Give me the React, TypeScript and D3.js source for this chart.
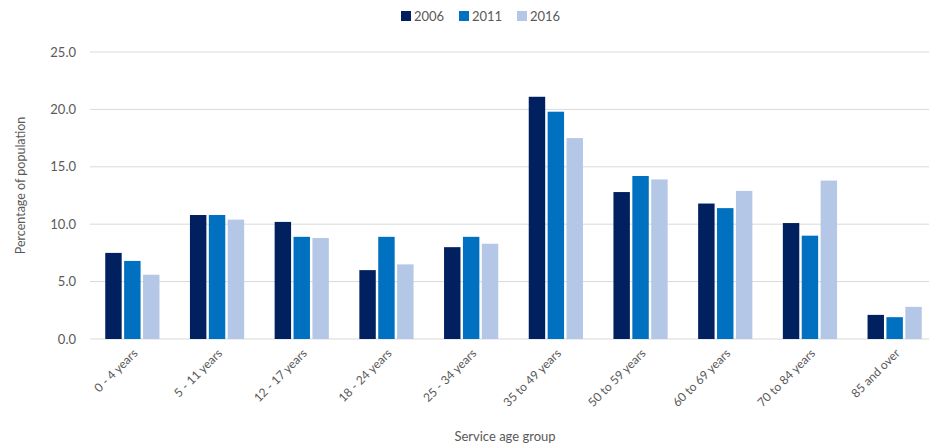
import React from "react";
import * as d3 from "d3";

const categories = [
  "0 - 4 years",
  "5 - 11 years",
  "12 - 17 years",
  "18 - 24 years",
  "25 - 34 years",
  "35 to 49 years",
  "50 to 59 years",
  "60 to 69 years",
  "70 to 84 years",
  "85 and over",
];
const seriesNames = ["2006", "2011", "2016"];
const values2006 = [7.5, 10.8, 10.2, 6.0, 8.0, 21.1, 12.8, 11.8, 10.1, 2.1];
const values2011 = [6.8, 10.8, 8.9, 8.9, 8.9, 19.8, 14.2, 11.4, 9.0, 1.9];
const values2016 = [5.6, 10.4, 8.8, 6.5, 8.3, 17.5, 13.9, 12.9, 13.8, 2.8];
const yTicks = [0, 5, 10, 15, 20, 25];
const colors = ["#002060", "#0070C0", "#B4C7E7"];

const W = 929;
const H = 446;
const FONT = "Lato, 'Open Sans', sans-serif";
const TEXT = "#595959";

export default function App() {
  const series = [values2006, values2011, values2016];
  const left = 90;
  const right = 937;
  const top = 52;
  const bottom = 339;

  const x = d3.scaleBand<string>().domain(categories).range([left, right]).paddingInner(0.36).paddingOuter(0.18);
  const xs = d3.scaleBand<string>().domain(seriesNames).range([0, x.bandwidth()]).paddingInner(0.13);
  const y = d3.scaleLinear().domain([0, 25]).range([bottom, top]);

  const legendX = [401, 459, 517];

  return (
    <svg width={W} height={H} style={{ position: "absolute", left: 0, top: 0, background: "#fff" }}>
      {yTicks.map((t) => (
        <g key={t}>
          <line x1={left} x2={W} y1={y(t)} y2={y(t)} stroke="#d9d9d9" strokeWidth={1} />
          <text x={76} y={y(t)} dy="0.35em" textAnchor="end" fontFamily={FONT} fontSize={13} fill={TEXT}>
            {t.toFixed(1)}
          </text>
        </g>
      ))}
      {categories.map((c, i) => (
        <g key={c} transform={`translate(${x(c)},0)`}>
          {series.map((vals, s) => (
            <rect
              key={s}
              x={xs(seriesNames[s])}
              y={y(vals[i])}
              width={xs.bandwidth()}
              height={y(0) - y(vals[i])}
              fill={colors[s]}
            />
          ))}
        </g>
      ))}
      {categories.map((c) => {
        const cx = (x(c) as number) + x.bandwidth() / 2 + 3;
        return (
          <text
            key={c}
            transform={`translate(${cx},${bottom + 12}) rotate(-45)`}
            textAnchor="end"
            dy="0.35em"
            fontFamily={FONT}
            fontSize={12}
            fill={TEXT}
          >
            {c}
          </text>
        );
      })}
      <text
        transform={`translate(21,${(top + bottom) / 2 - 10}) rotate(-90)`}
        textAnchor="middle"
        dy="0.35em"
        fontFamily={FONT}
        fontSize={12.5}
        fill={TEXT}
      >
        Percentage of population
      </text>
      <text x={505} y={436} textAnchor="middle" dy="0.35em" fontFamily={FONT} fontSize={13} fill={TEXT}>
        Service age group
      </text>
      {seriesNames.map((n, s) => (
        <g key={n}>
          <rect x={legendX[s]} y={11} width={10} height={10} fill={colors[s]} />
          <text x={legendX[s] + 13} y={16} dy="0.35em" fontFamily={FONT} fontSize={13} fill={TEXT}>
            {n}
          </text>
        </g>
      ))}
    </svg>
  );
}
